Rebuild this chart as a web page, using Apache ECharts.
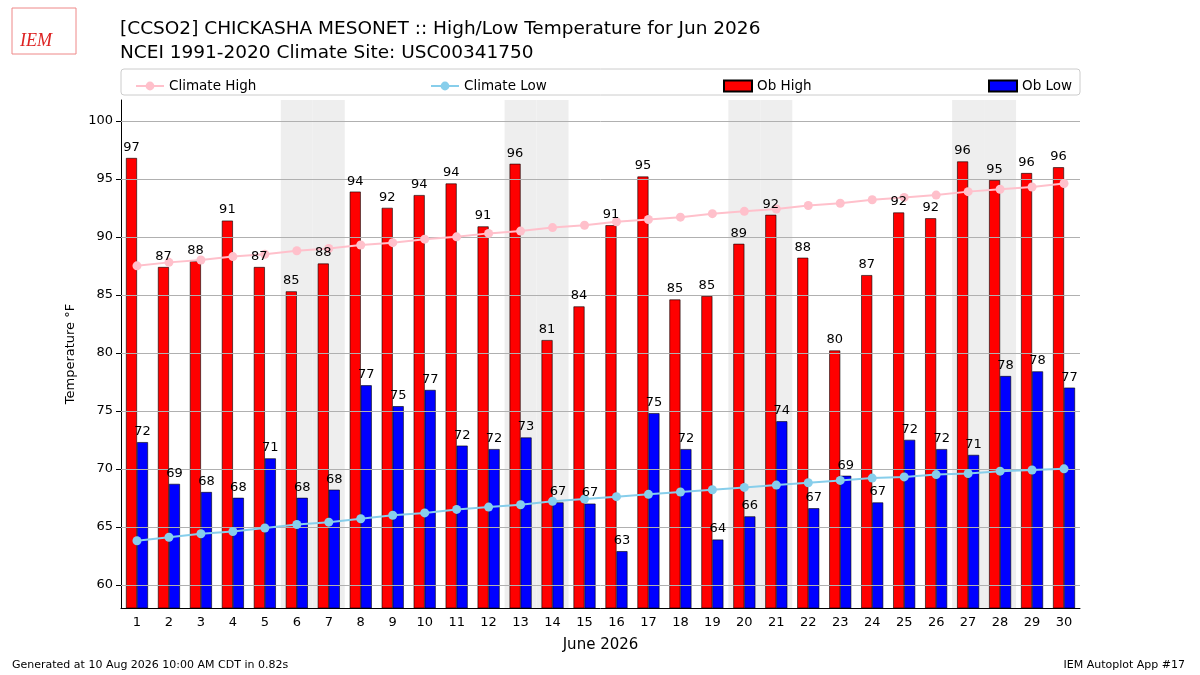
<!DOCTYPE html>
<html><head><meta charset="utf-8">
<script src="https://cdn.jsdelivr.net/npm/echarts@6/dist/echarts.min.js"></script>
<style>html,body{margin:0;padding:0;background:#fff}#c{width:1200px;height:675px}</style>
</head><body><div id="c"></div>
<script>
const days = Array.from({length:30},(_,i)=>String(i+1));
const obHigh = [96.8,87.4,87.9,91.4,87.4,85.3,87.7,93.9,92.5,93.6,94.6,90.9,96.3,81.1,84.0,91.0,95.2,84.6,84.9,89.4,91.9,88.2,80.2,86.7,92.1,91.6,96.5,94.9,95.5,96.0];
const obHighLabels = [97,87,88,91,87,85,88,94,92,94,94,91,96,81,84,91,95,85,85,89,92,88,80,87,92,92,96,95,96,96];
const obLow = [72.3,68.7,68.0,67.5,70.9,67.5,68.2,77.2,75.4,76.8,72.0,71.7,72.7,67.1,67.0,62.9,74.8,71.7,63.9,65.9,74.1,66.6,69.4,67.1,72.5,71.7,71.2,78.0,78.4,77.0];
const obLowLabels = [72,69,68,68,71,68,68,77,75,77,72,72,73,67,67,63,75,72,64,66,74,67,69,67,72,72,71,78,78,77];
const climHigh = [87.5,87.8,88.0,88.3,88.5,88.8,89.0,89.3,89.5,89.8,90.0,90.3,90.5,90.8,91.0,91.3,91.5,91.7,92.0,92.2,92.4,92.7,92.9,93.2,93.4,93.6,93.9,94.1,94.3,94.6];
const climLow = [63.8,64.1,64.4,64.6,64.9,65.2,65.4,65.7,66.0,66.2,66.5,66.7,66.9,67.2,67.4,67.6,67.8,68.0,68.2,68.4,68.6,68.8,69.0,69.2,69.3,69.5,69.6,69.8,69.9,70.0];
const weekendDays = [6,7,13,14,20,21,27,28];
const yTicks = [60,65,70,75,80,85,90,95,100];

const F = 'DejaVu Sans';
const chart = echarts.init(document.getElementById('c'));
const mkLbl = arr => ({show:true,position:'top',fontFamily:F,fontSize:13,color:'#000',distance:4,formatter:p=>arr[p.dataIndex]});
const legendBase = {top:74,itemWidth:28,itemHeight:11,textStyle:{fontFamily:F,fontSize:13.5,color:'#000'},itemGap:10};
chart.setOption({
  animation:false,
  textStyle:{fontFamily:F},
  title:[
    {text:'[CCSO2] CHICKASHA MESONET :: High/Low Temperature for Jun 2026\nNCEI 1991-2020 Climate Site: USC00341750',left:115,top:12,
     textStyle:{fontFamily:F,fontSize:18.5,fontWeight:'normal',color:'#000',lineHeight:24}},
    {text:'Generated at 10 Aug 2026 10:00 AM CDT in 0.82s',left:7,top:655,textStyle:{fontFamily:F,fontSize:11,fontWeight:'normal',color:'#000'}},
    {text:'IEM Autoplot App #17',right:10,top:655,textStyle:{fontFamily:F,fontSize:11,fontWeight:'normal',color:'#000'}}
  ],
  graphic:[
    {type:'rect',shape:{x:121,y:69,width:959,height:26,r:3},style:{fill:'none',stroke:'#ccc',lineWidth:1}},
    {type:'text',left:20,top:32,style:{text:'IEM',fill:'#d22',font:'italic 18px serif'}},
    {type:'rect',shape:{x:12,y:8,width:64,height:46},style:{fill:'none',stroke:'#e88',lineWidth:1}}
  ],
  legend:[
    Object.assign({},legendBase,{left:130,data:['Climate High']}),
    Object.assign({},legendBase,{left:425,data:['Climate Low']}),
    Object.assign({},legendBase,{left:718,data:[{name:'Ob High',icon:'rect'}]}),
    Object.assign({},legendBase,{left:983,data:[{name:'Ob Low',icon:'rect'}]})
  ],
  grid:{left:121,right:120,top:100,bottom:67},
  xAxis:[
    {type:'category',data:days,name:'June 2026',nameLocation:'middle',nameGap:30,
     nameTextStyle:{fontFamily:F,fontSize:15,color:'#000'},
     axisLine:{lineStyle:{color:'#000'}},axisTick:{alignWithLabel:true,lineStyle:{color:'#000'}},
     axisLabel:{fontFamily:F,fontSize:13,color:'#000'}},
    {type:'category',data:days,show:false},
    {type:'category',data:days,show:false}
  ],
  yAxis:{type:'value',min:58,max:101.8,name:'Temperature °F',nameLocation:'middle',nameGap:40,
    nameTextStyle:{fontFamily:F,fontSize:13,color:'#000'},
    axisLine:{show:true,lineStyle:{color:'#000'}},axisTick:{show:true,customValues:yTicks,lineStyle:{color:'#000'}},
    axisLabel:{customValues:yTicks,fontFamily:F,fontSize:13,color:'#000'},splitLine:{show:false}},
  series:[
    {type:'bar',xAxisIndex:1,silent:true,barWidth:'100%',z:0,
     data:days.map(d=>weekendDays.includes(+d)?200:null),itemStyle:{color:'#eeeeee'},
     markLine:{silent:true,symbol:'none',label:{show:false},lineStyle:{color:'#b0b0b0',type:'solid',width:1},data:yTicks.map(v=>({yAxis:v}))}},
    {name:'Ob High',type:'bar',data:obHigh,barWidth:11,barGap:'0%',z:2,itemStyle:{color:'#ff0000',borderColor:'#000',borderWidth:0.6}},
    {name:'Ob Low',type:'bar',data:obLow,barWidth:11,z:2,itemStyle:{color:'#0000ff',borderColor:'#000',borderWidth:0.6}},
    {type:'bar',xAxisIndex:2,silent:true,data:obHigh,barWidth:11,barGap:'0%',z:10,itemStyle:{color:'transparent'},label:mkLbl(obHighLabels)},
    {type:'bar',xAxisIndex:2,silent:true,data:obLow,barWidth:11,z:10,itemStyle:{color:'transparent'},label:mkLbl(obLowLabels)},
    {name:'Climate High',type:'line',data:climHigh,z:5,symbol:'circle',symbolSize:9,lineStyle:{color:'#ffc0cb',width:2},itemStyle:{color:'#ffc0cb'}},
    {name:'Climate Low',type:'line',data:climLow,z:5,symbol:'circle',symbolSize:9,lineStyle:{color:'#87ceeb',width:2},itemStyle:{color:'#87ceeb'}}
  ]
});
</script></body></html>
